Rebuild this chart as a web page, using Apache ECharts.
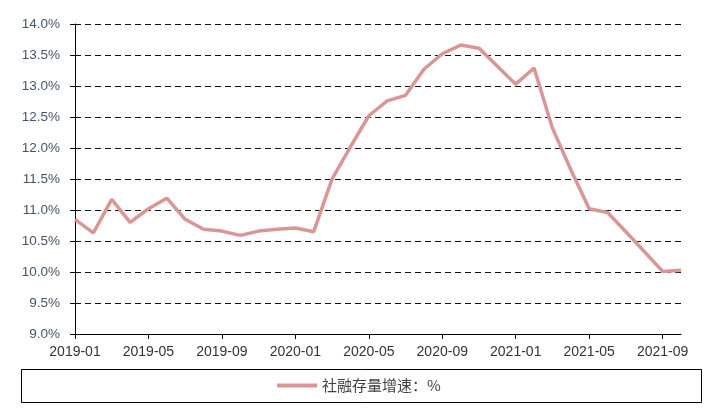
<!DOCTYPE html>
<html>
<head>
<meta charset="utf-8">
<script src="https://cdn.jsdelivr.net/npm/echarts@6/dist/echarts.min.js"></script>
<style>html,body{margin:0;padding:0;background:#fff}#c{width:718px;height:408px}</style>
</head>
<body>
<div id="c"></div>
<script>
const categories = ["2019-01","2019-02","2019-03","2019-04","2019-05","2019-06","2019-07","2019-08","2019-09","2019-10","2019-11","2019-12",
  "2020-01","2020-02","2020-03","2020-04","2020-05","2020-06","2020-07","2020-08","2020-09","2020-10","2020-11","2020-12",
  "2021-01","2021-02","2021-03","2021-04","2021-05","2021-06","2021-07","2021-08","2021-09","2021-10"];
const seriesName = "社融存量增速：%";
const values = [10.85, 10.63, 11.17, 10.80, 11.02, 11.19, 10.85, 10.69, 10.66, 10.59, 10.66, 10.69,
  10.71, 10.65, 11.50, 12.02, 12.52, 12.76, 12.85, 13.27, 13.52, 13.66, 13.61, 13.32,
  13.03, 13.29, 12.32, 11.65, 11.02, 10.96, 10.65, 10.33, 10.01, 10.03];
const yMin = 9, yMax = 14, yStep = 0.5;

const chart = echarts.init(document.getElementById('c'), null, {renderer: 'canvas'});
const font = "'Liberation Sans', Arial, sans-serif";
chart.setOption({
  animation: false,
  backgroundColor: '#fff',
  grid: {left: 75, right: 37, top: 24, bottom: 74, containLabel: false},
  graphic: [{type: 'rect', left: 19, top: 367, shape: {width: 680, height: 33},
    style: {fill: 'none', stroke: '#000', lineWidth: 1}, silent: true}],
  legend: {
    data: [seriesName], left: 'center', top: 373, itemWidth: 40, itemHeight: 4, itemGap: 10,
    textStyle: {fontFamily: "'Noto Sans CJK SC', sans-serif", fontSize: 15, color: '#404040'},
    icon: 'rect'
  },
  xAxis: {
    type: 'category', data: categories, boundaryGap: false,
    axisLine: {lineStyle: {color: '#000', width: 1}},
    axisTick: {show: true, interval: 3, length: 5, lineStyle: {color: '#000'}},
    axisLabel: {interval: 3, margin: 11, fontFamily: font, fontSize: 14, color: '#333'},
    splitLine: {show: false}
  },
  yAxis: [{
    type: 'value', min: yMin, max: yMax, interval: yStep,
    axisLine: {show: true, lineStyle: {color: '#000', width: 1}},
    axisTick: {show: true, length: 5, lineStyle: {color: '#000'}},
    axisLabel: {margin: 15, fontFamily: font, fontSize: 13.5, color: '#44546a',
      formatter: v => v.toFixed(1) + '%'},
    splitLine: {show: true, lineStyle: {color: '#111', type: [6, 4], width: 1.2}}
  }, {
    type: 'value', min: yMin, max: yMax, interval: yStep, position: 'left',
    axisLine: {show: false},
    axisTick: {show: true, inside: true, length: 4, lineStyle: {color: '#000'}},
    axisLabel: {show: false},
    splitLine: {show: false}
  }],
  series: [{
    name: seriesName, type: 'line', data: values, symbol: 'none', smooth: false,
    lineStyle: {color: '#d99694', width: 3.5}, itemStyle: {color: '#d99694'}
  }]
});
</script>
</body>
</html>
